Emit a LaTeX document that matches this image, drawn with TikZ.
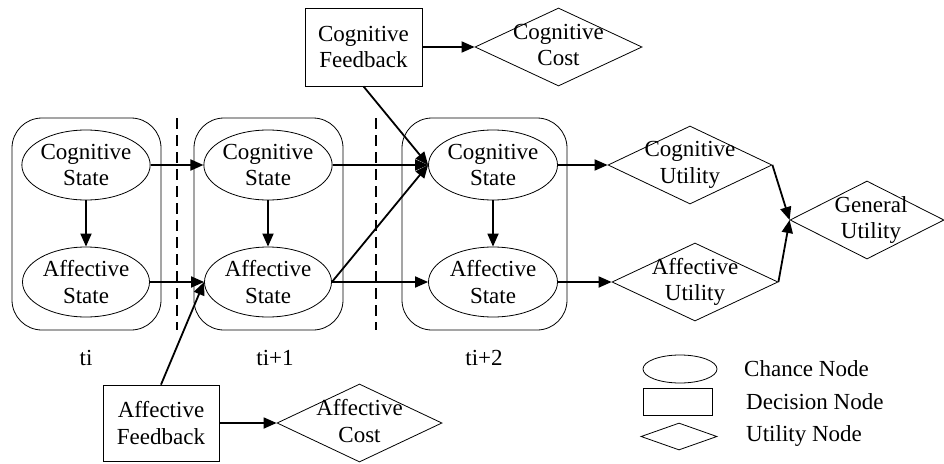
\documentclass[tikz,border=0pt]{standalone}
\usepackage{fontspec}
\setmainfont{Liberation Serif}
\usetikzlibrary{shapes.geometric,arrows.meta}
\begin{document}
\begin{tikzpicture}[x=1pt,y=-1pt,
  font=\fontsize{23}{26.5}\selectfont,
  chance/.style={draw,ellipse,line width=0.8pt,inner sep=0pt,minimum width=127pt,minimum height=70pt,align=center},
  decision/.style={draw,rectangle,line width=0.8pt,inner sep=0pt,align=center},
  util/.style={draw,diamond,line width=0.8pt,inner sep=0pt,minimum width=164pt,minimum height=78pt},
  group/.style={draw,rectangle,rounded corners=30pt,line width=0.8pt,inner sep=0pt,minimum width=149pt,minimum height=212pt},
  arr/.style={line width=1.8pt,-{Triangle[length=13pt,width=11pt]}},
  sep/.style={line width=1.4pt,dash pattern=on 11pt off 6pt},
  tlabel/.style={inner sep=0pt}
]
\useasboundingbox (0,0) rectangle (944,463);
% groups
\node[group] (g1) at (86.5,224) {};
\node[group] (g2) at (268.5,224) {};
\node[group,minimum width=165pt] (g3) at (484.5,224) {};
% separators
\coordinate (d1t) at (177,118); \coordinate (d1b) at (177,330);
\coordinate (d2t) at (376,118); \coordinate (d2b) at (376,330);
\draw[sep] (d1t) -- (d1b);
\draw[sep] (d2t) -- (d2b);
% chance nodes
\node[chance] (c1) at (86,165) {Cognitive\\State};
\node[chance] (a1) at (86,282) {Affective\\State};
\node[chance] (c2) at (268,165) {Cognitive\\State};
\node[chance] (a2) at (268,282) {Affective\\State};
\node[chance,minimum width=129pt] (c3) at (493,165) {Cognitive\\State};
\node[chance,minimum width=129pt] (a3) at (493,282) {Affective\\State};
% decision nodes
\node[decision,minimum width=117pt,minimum height=78pt] (cf) at (363.5,47) {Cognitive\\Feedback};
\node[decision,minimum width=116pt,minimum height=76pt] (af) at (161,423) {Affective\\Feedback};
% utility nodes
\node[util,minimum width=167pt,label={[align=center,inner sep=0pt,yshift=2pt]center:Cognitive\\Cost}] (cc) at (558.5,47) {};
\node[util,minimum width=165pt,label={[align=center,inner sep=0pt,yshift=2pt]center:Affective\\Cost}] (ac) at (359.5,423) {};
\node[util,label={[align=center,inner sep=0pt]center:Cognitive\\Utility}] (cu) at (690,165) {};
\node[util,minimum width=166pt,label={[align=center,inner sep=0pt]center:Affective\\Utility}] (au) at (695,282) {};
\node[util,minimum width=154pt,label={[align=center,inner sep=0pt,xshift=4pt]center:General\\Utility}] (gu) at (867,220) {};
% time labels
\node[tlabel] (t1) at (86,358) {ti};
\node[tlabel] (t2) at (275,358) {ti+1};
\node[tlabel] (t3) at (484,358) {ti+2};
% arrows
\draw[arr] (c1) -- (a1);
\draw[arr] (c2) -- (a2);
\draw[arr] (c3) -- (a3);
\draw[arr] (c1.east) -- (c2.west);
\draw[arr] (a1.east) -- (a2.west);
\draw[arr] (c2.east) -- (c3.west);
\draw[arr] (a2.east) -- (a3.west);
\draw[arr] (a2.east) -- (c3.west);
\draw[arr] (cf.south) -- (c3.west);
\draw[arr] (af.north) -- (a2.west);
\draw[arr] (cf.east) -- (cc.west);
\draw[arr] (af.east) -- (ac.west);
\draw[arr] (c3.east) -- (cu.west);
\draw[arr] (a3.east) -- (au.west);
\draw[arr] (cu.east) -- (gu.west);
\draw[arr] (au.east) -- (gu.west);
% legend
\node[draw,ellipse,line width=0.8pt,minimum width=74pt,minimum height=28pt,inner sep=0pt] (le) at (680,369) {};
\node[draw,rectangle,line width=0.8pt,minimum width=69pt,minimum height=27pt,inner sep=0pt] (lr) at (677.5,401.5) {};
\node[draw,diamond,line width=0.8pt,minimum width=76pt,minimum height=27pt,inner sep=0pt] (ld) at (679,436.5) {};
\node[tlabel,anchor=west] (let) at (744,369) {Chance Node};
\node[tlabel,anchor=west] (lrt) at (746,402) {Decision Node};
\node[tlabel,anchor=west] (ldt) at (746,436) {Utility Node};
\end{tikzpicture}
\end{document}
